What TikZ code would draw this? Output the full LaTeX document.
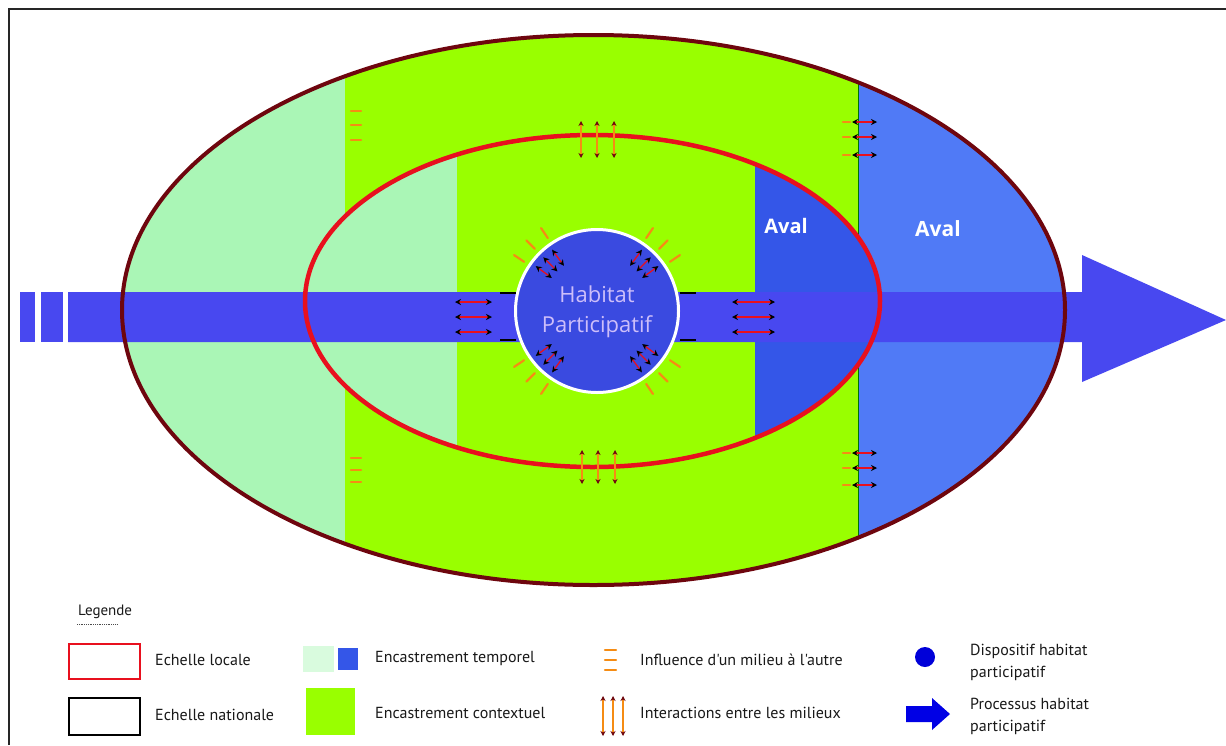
\documentclass[tikz,border=0pt]{standalone}
\usepackage{fontspec}
\setmainfont{Open Sans}
\newfontfamily\legfont{PT Sans}
\usetikzlibrary{arrows.meta}

\definecolor{palegreen}{RGB}{170,246,182}
\definecolor{brightgreen}{RGB}{153,255,0}
\definecolor{outerblue}{RGB}{80,122,246}
\definecolor{innerblue}{RGB}{52,86,232}
\definecolor{barblue}{RGB}{72,72,240}
\definecolor{hpblue}{RGB}{58,74,224}
\definecolor{ringdark}{RGB}{110,6,14}
\definecolor{ringred}{RGB}{232,16,30}
\definecolor{mark}{RGB}{245,140,20}
\definecolor{lavender}{RGB}{205,190,250}
\definecolor{legtext}{RGB}{25,25,25}

\tikzset{
  outerring/.style={draw=ringdark, line width=4pt},
  innerring/.style={draw=ringred, line width=4.5pt},
  influence/.style={draw=mark, line width=2.4pt, line cap=round},
  interact/.style={draw=mark, line width=2.4pt, {Stealth[length=5pt,width=5pt,color=ringdark]}-{Stealth[length=5pt,width=5pt,color=ringdark]}},
  exchange/.style={draw=ringred, line width=1.6pt, {Stealth[length=6pt,width=6pt,color=black]}-{Stealth[length=6pt,width=6pt,color=black]}},
  ray/.style={draw=mark, line width=2.2pt, line cap=round},
  legtxt/.style={font=\legfont\fontsize{16}{22}\selectfont, text=legtext, anchor=west, inner sep=0pt, align=left},
  avaltxt/.style={font=\bfseries\fontsize{20}{22}\selectfont, text=white}
}

\begin{document}
\begin{tikzpicture}[x=1pt,y=-1pt]
\useasboundingbox (0,0) rectangle (1226,745);
\fill[white] (0,0) rectangle (1226,745);

% frame
\draw[line width=2pt, black!85] (9,745) -- (9,9) -- (1226,9);

% outer zone, split into upstream / context / downstream bands
\begin{scope}
  \clip (593.5,310) ellipse [x radius=471.5, y radius=275];
  \fill[palegreen] (100,0) rectangle (345,620);
  \fill[brightgreen] (345,0) rectangle (858,620);
  \fill[outerblue] (858,0) rectangle (1100,620);
  \draw[green!45!black, line width=1pt] (858,0) -- (858,620);
\end{scope}

% inner zone
\begin{scope}
  \clip (592.5,301) ellipse [x radius=287.5, y radius=166];
  \fill[palegreen] (290,0) rectangle (457,620);
  \fill[brightgreen] (457,0) rectangle (755,620);
  \fill[innerblue] (755,0) rectangle (900,620);
\end{scope}

% process arrow
\fill[barblue] (20,292) rectangle (35,342);
\fill[barblue] (41,292) rectangle (63,342);
\fill[barblue] (68,292) -- (1082,292) -- (1082,255) -- (1226,320)
  -- (1082,382) -- (1082,342) -- (68,342) -- cycle;

% rings
\draw[outerring] (593.5,310) ellipse [x radius=471.5, y radius=275];
\draw[innerring] (592.5,301) ellipse [x radius=287.5, y radius=166];

% central device
\node[circle, draw=white, line width=3pt, fill=hpblue, minimum size=163pt,
      inner sep=0pt] (hp) at (597,311) {};
\node[text=lavender, font=\fontsize{22}{30}\selectfont, align=center] (hptxt)
  at (597,312) {Habitat\\Participatif};

% black stubs where the arrow meets the device
\draw[black, line width=1.2pt] (500,293) -- (516,293);
\draw[black, line width=1.2pt] (500,340) -- (516,340);
\draw[black, line width=1.2pt] (680,293) -- (696,293);
\draw[black, line width=1.2pt] (680,340) -- (696,340);

% rays and exchanges around the device
\foreach \a in {45,135,225,315}{
  \foreach \d in {-11,0,11}{
    \draw[ray] (hp.center) ++(\a+\d:88) -- ++(\a+\d:12);
    \draw[exchange, line width=1.3pt] (hp.center) ++(\a+\d*0.8:56) -- ++(\a+\d*0.8:20);
  }
}

% exchanges along the arrow
\foreach \y in {302,317,332}{
  \draw[exchange] (455,\y) -- (492,\y);
  \draw[exchange] (732,\y) -- (775,\y);
}

% interactions across the inner ring
\foreach \x in {581,597,614}{
  \draw[interact] (\x,121) -- (\x,158);
  \draw[interact] (\x+1,450) -- (\x+1,484);
}

% influences between the bands of the outer zone
\foreach \y in {111,125,140}{
  \draw[influence] (351,\y) -- (361,\y);
}
\foreach \y in {458,470,482}{
  \draw[influence] (351,\y) -- (361,\y);
}
\foreach \y in {122,137,155}{
  \draw[influence] (843,\y) -- (850,\y);
  \draw[exchange, line width=1.2pt] (852,\y) -- (877,\y);
}
\foreach \y in {453,468,485}{
  \draw[influence] (843,\y) -- (850,\y);
  \draw[exchange, line width=1.2pt] (852,\y) -- (877,\y);
}

% labels
\node[avaltxt] (aval1) at (786,226) {Aval};
\node[avaltxt, font=\bfseries\fontsize{21}{23}\selectfont] (aval2) at (938,229) {Aval};

% legend
\node[legtxt, font=\legfont\fontsize{15}{17}\selectfont] (legtitle) at (78,612) {Legende};
\draw[densely dotted, line width=0.8pt, black!70] (77,624) -- (118,624);

\draw[ringred, line width=2.5pt] (69,644) rectangle (140,679);
\draw[black, line width=2.5pt] (69,698) rectangle (140,735);
\node[legtxt] (l1) at (155,660) {Echelle locale};
\node[legtxt] (l2) at (155,715) {Echelle nationale};

\fill[palegreen!45] (303,646) rectangle (334,672);
\fill[innerblue] (338,648) rectangle (358,670);
\fill[brightgreen] (306,688) rectangle (355,735);
\node[legtxt] (l3) at (375,658) {Encastrement temporel};
\node[legtxt] (l4) at (375,713) {Encastrement contextuel};

\foreach \y in {650,660,670}{
  \draw[influence] (605,\y) -- (616,\y);
}
\foreach \x in {603,613,623}{
  \draw[interact, line width=1.8pt] (\x,696) -- (\x,736);
}
\node[legtxt] (l5) at (640,660) {Influence d'un milieu à l'autre};
\node[legtxt] (l6) at (640,713) {Interactions entre les milieux};

\fill[blue!85!black] (925,657) circle (10);
\fill[blue!90!black] (906,706) -- (932,706) -- (932,698) -- (950,714)
  -- (932,730) -- (932,722) -- (906,722) -- cycle;
\node[legtxt] (l7) at (970,662) {Dispositif habitat\\participatif};
\node[legtxt] (l8) at (970,716) {Processus habitat\\participatif};
\end{tikzpicture}
\end{document}
